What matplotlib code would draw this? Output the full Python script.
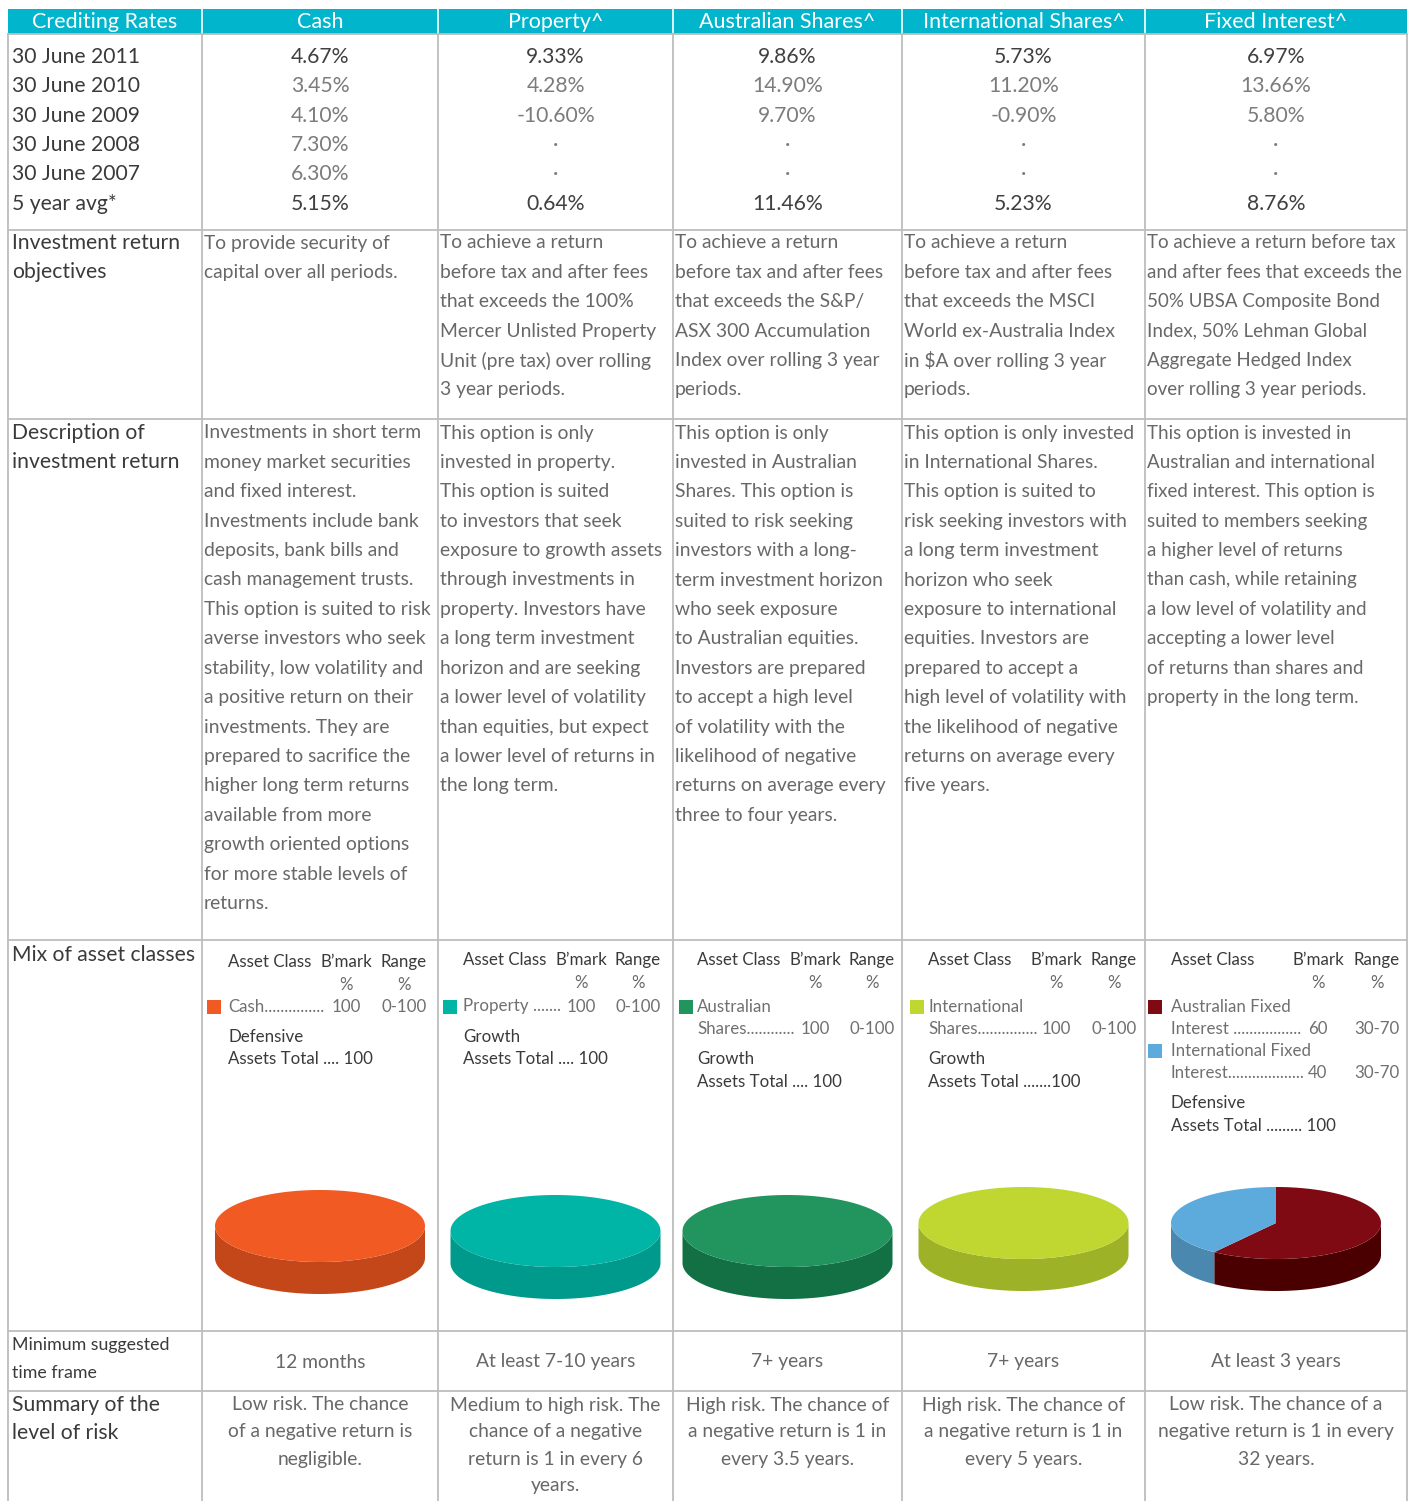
import numpy as np
import matplotlib
matplotlib.use("Agg")
from matplotlib import pyplot as plt
from matplotlib.patches import Polygon, Rectangle

plt.rcParams['font.family'] = ['Lato', 'DejaVu Sans']

# ---- data ----
options = ['Cash', 'Property^', 'Australian Shares^', 'International Shares^', 'Fixed Interest^']
periods = ['30 June 2011', '30 June 2010', '30 June 2009', '30 June 2008', '30 June 2007', '5 year avg*']

cash_rates = [4.67, 3.45, 4.10, 7.30, 6.30, 5.15]
property_rates = [9.33, 4.28, -10.60, None, None, 0.64]
aus_shares_rates = [9.86, 14.90, 9.70, None, None, 11.46]
intl_shares_rates = [5.73, 11.20, -0.90, None, None, 5.23]
fixed_rates = [6.97, 13.66, 5.80, None, None, 8.76]
all_rates = [cash_rates, property_rates, aus_shares_rates, intl_shares_rates, fixed_rates]

objectives = [
    ["To provide security of", "capital over all periods."],
    ["To achieve a return", "before tax and after fees", "that exceeds the 100%",
     "Mercer Unlisted Property", "Unit (pre tax) over rolling", "3 year periods."],
    ["To achieve a return", "before tax and after fees", "that exceeds the S&P/",
     "ASX 300 Accumulation", "Index over rolling 3 year", "periods."],
    ["To achieve a return", "before tax and after fees", "that exceeds the MSCI",
     "World ex-Australia Index", "in \\$A over rolling 3 year", "periods."],
    ["To achieve a return before tax", "and after fees that exceeds the",
     "50% UBSA Composite Bond", "Index, 50% Lehman Global",
     "Aggregate Hedged Index", "over rolling 3 year periods."],
]

descriptions = [
    ["Investments in short term", "money market securities", "and fixed interest.",
     "Investments include bank", "deposits, bank bills and", "cash management trusts.",
     "This option is suited to risk", "averse investors who seek", "stability, low volatility and",
     "a positive return on their", "investments. They are", "prepared to sacrifice the",
     "higher long term returns", "available from more", "growth oriented options",
     "for more stable levels of", "returns."],
    ["This option is only", "invested in property.", "This option is suited",
     "to investors that seek", "exposure to growth assets", "through investments in",
     "property. Investors have", "a long term investment", "horizon and are seeking",
     "a lower level of volatility", "than equities, but expect", "a lower level of returns in",
     "the long term."],
    ["This option is only", "invested in Australian", "Shares. This option is",
     "suited to risk seeking", "investors with a long-", "term investment horizon",
     "who seek exposure", "to Australian equities.", "Investors are prepared",
     "to accept a high level", "of volatility with the", "likelihood of negative",
     "returns on average every", "three to four years."],
    ["This option is only invested", "in International Shares.", "This option is suited to",
     "risk seeking investors with", "a long term investment", "horizon who seek",
     "exposure to international", "equities. Investors are", "prepared to accept a",
     "high level of volatility with", "the likelihood of negative", "returns on average every",
     "five years."],
    ["This option is invested in", "Australian and international", "fixed interest. This option is",
     "suited to members seeking", "a higher level of returns", "than cash, while retaining",
     "a low level of volatility and", "accepting a lower level", "of returns than shares and",
     "property in the long term."],
]

# asset mix: label lines, benchmark %, range %, colour
mix_labels = [
    [["Cash" + "." * 15]],
    [["Property " + "." * 7]],
    [["Australian", "Shares" + "." * 12]],
    [["International", "Shares" + "." * 15]],
    [["Australian Fixed", "Interest " + "." * 17], ["International Fixed", "Interest" + "." * 19]],
]
mix_bmark = [[100], [100], [100], [100], [60, 40]]
mix_range = [["0-100"], ["0-100"], ["0-100"], ["0-100"], ["30-70", "30-70"]]
mix_colors = [["#F15A22"], ["#00B5A6"], ["#22955F"], ["#BFD730"], ["#7F0A14", "#5DABDD"]]
mix_side_colors = [["#C4471A"], ["#009A8C"], ["#127044"], ["#9DB227"], ["#4A0000", "#4A88B0"]]
mix_group = ["Defensive", "Growth", "Growth", "Growth", "Defensive"]
mix_total = ["Assets Total .... 100", "Assets Total .... 100", "Assets Total .... 100",
             "Assets Total .......100", "Assets Total ......... 100"]

time_frames = ["12 months", "At least 7-10 years", "7+ years", "7+ years", "At least 3 years"]
risk_summary = [
    ["Low risk. The chance", "of a negative return is", "negligible."],
    ["Medium to high risk. The", "chance of a negative", "return is 1 in every 6", "years."],
    ["High risk. The chance of", "a negative return is 1 in", "every 3.5 years."],
    ["High risk. The chance of", "a negative return is 1 in", "every 5 years."],
    ["Low risk. The chance of a", "negative return is 1 in every", "32 years."],
]

# ---- layout ----
col_edges = [8, 202, 438, 673, 902, 1145, 1407]
row_lines = [34, 230, 419, 940, 1331, 1391]
teal = "#00B5CC"
grid = "#BDBDBD"
dark = "#3A3A3A"
body = "#686868"
fs = 13.9
lfs = 15.2
step = 29.4

fig = plt.figure(figsize=(14.16, 15.01), dpi=100)
ax = fig.add_axes([0, 0, 1, 1])
ax.set_xlim(0, 1416)
ax.set_ylim(1501, 0)
ax.axis('off')

# header band
ax.add_patch(Rectangle((col_edges[0], 9), col_edges[-1] - col_edges[0], 25, color=teal, lw=0))
for x in col_edges[1:-1]:
    ax.plot([x, x], [9, 34], color="white", lw=1.2)
headers = ["Crediting Rates"] + options
for i, h in enumerate(headers):
    cx = (col_edges[i] + col_edges[i + 1]) / 2
    ax.text(cx, 22, h, color="white", fontsize=15.5, ha="center", va="center")

# grid lines
for x in col_edges:
    ax.plot([x, x], [34, 1501], color=grid, lw=1.3)
for y in row_lines:
    ax.plot([col_edges[0], col_edges[-1]], [y, y], color=grid, lw=1.3)

# crediting rates
rate_y = [57, 86, 116, 145, 174, 204]
for j, p in enumerate(periods):
    ax.text(12, rate_y[j], p, color=dark, fontsize=lfs, ha="left", va="center")
for i, rates in enumerate(all_rates):
    cx = (col_edges[i + 1] + col_edges[i + 2]) / 2
    for j, v in enumerate(rates):
        strong = j in (0, 5)
        s = "·" if v is None else f"{v:.2f}%"
        ax.text(cx, rate_y[j], s, color="#404040" if strong else "#7C7C7C", fontsize=lfs,
                ha="center", va="center")

# objectives & descriptions
for k, ln in enumerate(["Investment return", "objectives"]):
    ax.text(12, 243 + k * step, ln, color=dark, fontsize=lfs, va="center", ha="left")
for k, ln in enumerate(["Description of", "investment return"]):
    ax.text(12, 433 + k * step, ln, color=dark, fontsize=lfs, va="center", ha="left")
for i in range(5):
    x0 = col_edges[i + 1] + 2
    size = fs if i < 4 else 13.5
    for k, line in enumerate(objectives[i]):
        ax.text(x0, 243 + k * step, line, color=body, fontsize=size,
                ha="left", va="center")
    for k, line in enumerate(descriptions[i]):
        ax.text(x0, 433 + k * step, line, color=body, fontsize=size,
                ha="left", va="center")

# asset mix block
ax.text(12, 955, "Mix of asset classes", color=dark, fontsize=lfs, ha="left", va="center")
ac_x = [228, 463, 697, 928, 1171]
bm_x = [346, 581, 815, 1056, 1318]
rg_x = [404, 638, 872, 1114, 1377]
sq_x = [207, 443, 679, 910, 1148]
hdr_y = [962, 960, 960, 960, 960]
mfs = 12.2
mix_text = "#707070"
for i in range(5):
    y = hdr_y[i]
    ax.text(ac_x[i], y, "Asset Class", color=dark, fontsize=mfs, ha="left", va="center")
    ax.text(bm_x[i], y, "B’mark", color=dark, fontsize=mfs, ha="center", va="center")
    ax.text(rg_x[i], y, "Range", color=dark, fontsize=mfs, ha="center", va="center")
    ax.text(bm_x[i], y + 23, "%", color=body, fontsize=mfs, ha="center", va="center")
    ax.text(rg_x[i], y + 23, "%", color=body, fontsize=mfs, ha="center", va="center")
    yy = 1006.5
    for k, lines in enumerate(mix_labels[i]):
        ax.add_patch(Rectangle((sq_x[i], yy - 7), 14, 14, color=mix_colors[i][k], lw=0))
        for n, ln in enumerate(lines):
            ax.text(ac_x[i], yy, ln, color=mix_text, fontsize=mfs,
                    ha="left", va="center")
            if n < len(lines) - 1:
                yy += 22.3
        ax.text(bm_x[i], yy, str(mix_bmark[i][k]), color=mix_text, fontsize=mfs,
                ha="center", va="center")
        ax.text(rg_x[i], yy, mix_range[i][k], color=mix_text, fontsize=mfs,
                ha="center", va="center")
        yy += 22.3
    yy += 7.7
    ax.text(ac_x[i], yy, mix_group[i], color=dark, fontsize=mfs, ha="left", va="center")
    ax.text(ac_x[i], yy + 23, mix_total[i], color=dark, fontsize=mfs, ha="left", va="center")

# 3D-looking pies
pie_cy = [1226, 1231, 1231, 1223, 1223]
rx, ry, depth = 105, 36, 32


def pt(cx, cy, th, dy=0):
    return cx + rx * np.cos(th), cy - ry * np.sin(th) + dy


for i in range(5):
    cx = (col_edges[i + 1] + col_edges[i + 2]) / 2
    cy = pie_cy[i]
    vals = np.array(mix_bmark[i], dtype=float)
    fr = vals / vals.sum()
    start = np.pi / 2
    spans = []
    for f in fr:
        a0 = start - f * 2 * np.pi
        spans.append((a0, start))
        start = a0
    # sides (front half only)
    for k, (a0, a1) in enumerate(spans):
        for off in (0, -2 * np.pi, 2 * np.pi):
            lo = max(a0 + off, -np.pi)
            hi = min(a1 + off, 0)
            if hi - lo <= 1e-6:
                continue
            th = np.linspace(lo, hi, 80)
            top = [pt(cx, cy, t) for t in th]
            bot = [pt(cx, cy, t, depth) for t in th[::-1]]
            ax.add_patch(Polygon(top + bot, closed=True, color=mix_side_colors[i][k], lw=0))
    # tops
    for k, (a0, a1) in enumerate(spans):
        th = np.linspace(a0, a1, 200)
        pts = [pt(cx, cy, t) for t in th]
        if len(fr) > 1:
            pts = [(cx, cy)] + pts
        ax.add_patch(Polygon(pts, closed=True, color=mix_colors[i][k], lw=0))

# time frame & risk rows
ax.text(12, 1345, "Minimum suggested", color=dark, fontsize=12.8, ha="left", va="center")
ax.text(12, 1373, "time frame", color=dark, fontsize=12.8, ha="left", va="center")
ax.text(12, 1405, "Summary of the", color=dark, fontsize=lfs, ha="left", va="center")
ax.text(12, 1433, "level of risk", color=dark, fontsize=lfs, ha="left", va="center")
for i in range(5):
    cx = (col_edges[i + 1] + col_edges[i + 2]) / 2
    ax.text(cx, 1362, time_frames[i], color=body, fontsize=fs,
            ha="center", va="center")
    for k, line in enumerate(risk_summary[i]):
        ax.text(cx, 1405 + k * 27, line, color=body, fontsize=fs,
                ha="center", va="center")

fig.savefig("out.png", dpi=100, facecolor="white")
